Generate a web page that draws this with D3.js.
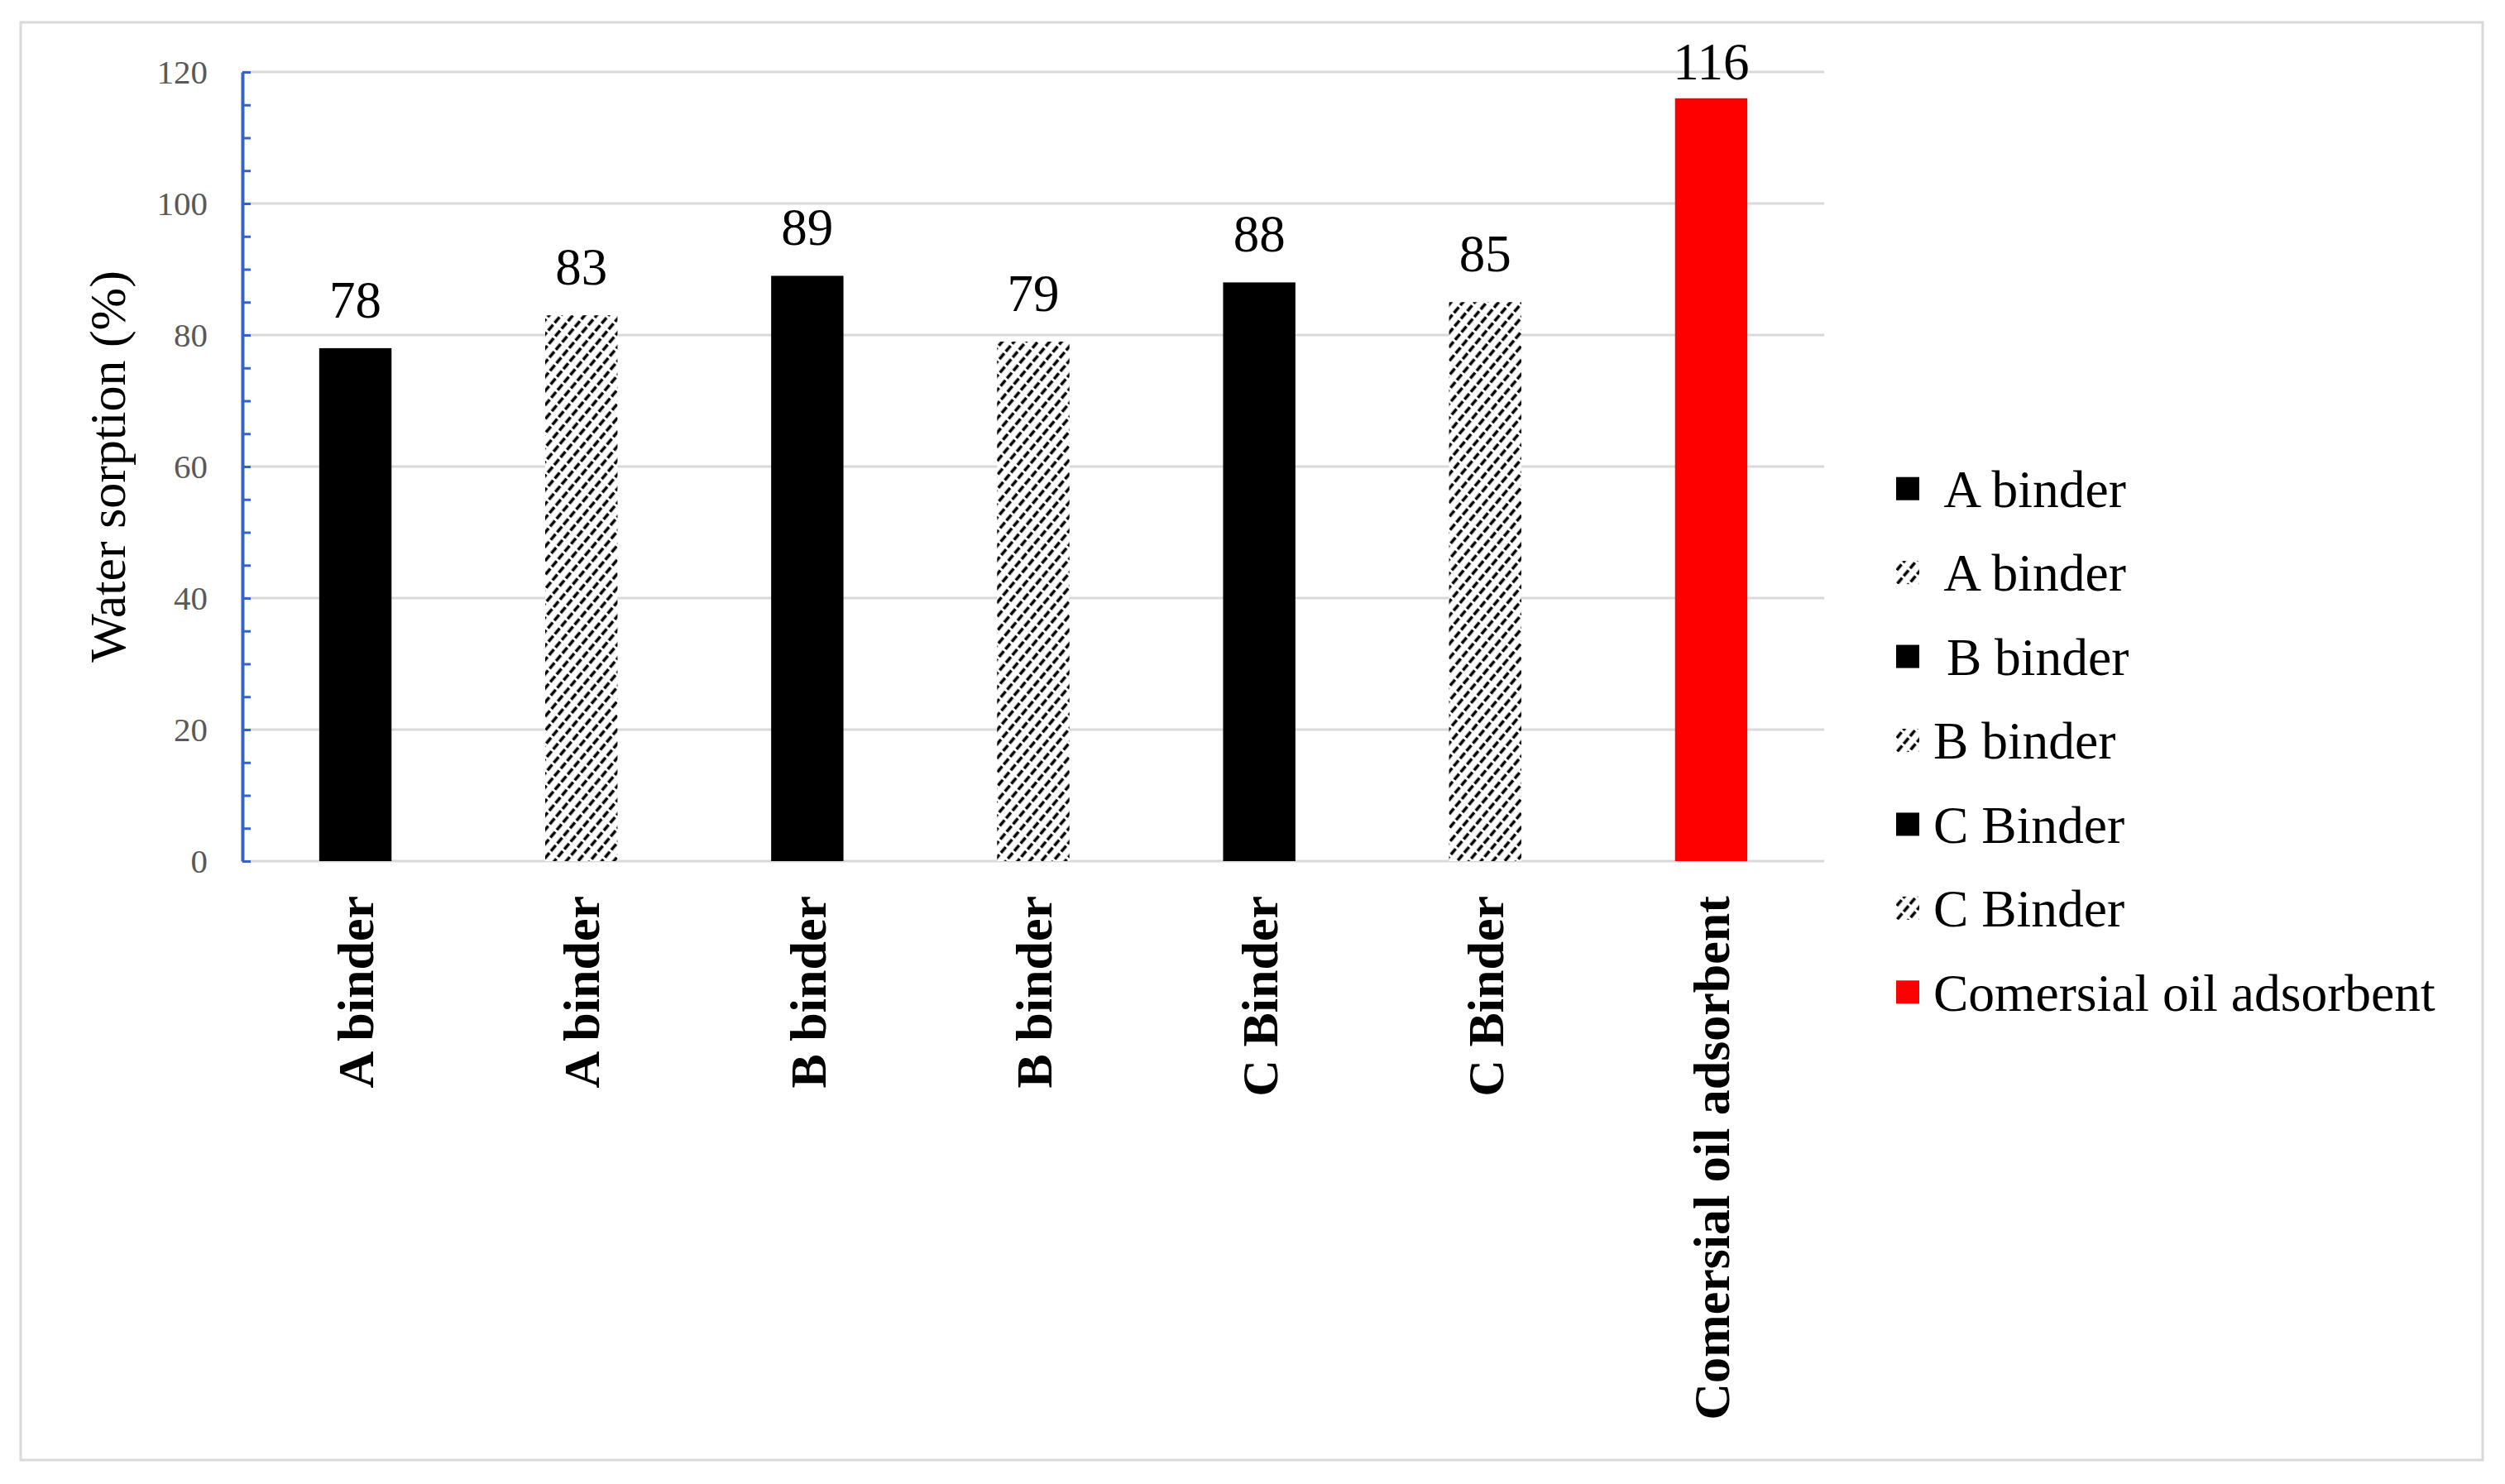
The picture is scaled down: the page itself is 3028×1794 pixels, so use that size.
<!DOCTYPE html>
<html>
<head>
<meta charset="utf-8">
<script src="https://cdn.jsdelivr.net/npm/d3@7"></script>
<style>
  body { margin: 0; background: #fff; }
  svg text { font-family: "Liberation Serif", "DejaVu Serif", serif; }
  .tick-label { fill: #595959; font-size: 41px; }
  .value { fill: #000; font-size: 63px; text-anchor: middle; }
  .xlabel { fill: #000; font-size: 62px; font-weight: bold; text-anchor: end; }
  .legend text { fill: #000; font-size: 63.5px; white-space: pre; }
</style>
</head>
<body>
<div id="chart"></div>
<script>
let canvasWidth = 3028;
let canvasHeight = 1794;

// data
let categories = ["A binder", "A binder", "B binder", "B binder", "C Binder", "C Binder", "Comersial oil adsorbent"];
let values = [78, 83, 89, 79, 88, 85, 116];
let legendLabels = [" A binder", " A binder", " B binder", "B binder", "C Binder", "C Binder", "Comersial oil adsorbent"];
let yTicks = [0, 20, 40, 60, 80, 100, 120];
let yTitle = "Water sorption (%)";

// styling: solid, hatched, red
let fillFor = i => i === 6 ? "#ff0000" : (i % 2 === 0 ? "#000000" : "url(#hatch)");

let serif = "'Liberation Serif', 'DejaVu Serif', serif";

let plotLeft = 293;
let plotRight = 2205;
let plotTop = 87;
let plotBottom = 1041;

let svg = d3.select("#chart")
    .append("svg")
    .attr("width", canvasWidth)
    .attr("height", canvasHeight)
    .attr("font-family", serif);

svg.append("rect")
    .attr("width", canvasWidth)
    .attr("height", canvasHeight)
    .attr("fill", "#fff");

// outer frame
svg.append("rect")
    .attr("x", 25)
    .attr("y", 27)
    .attr("width", 2976)
    .attr("height", 1738)
    .attr("fill", "none")
    .attr("stroke", "#d9d9d9")
    .attr("stroke-width", 3);

// dashed upward diagonal pattern
let defs = svg.append("defs");
let pat = defs.append("pattern")
    .attr("id", "hatch")
    .attr("patternUnits", "userSpaceOnUse")
    .attr("width", 12)
    .attr("height", 11)
    .attr("patternTransform", "rotate(-50)");
pat.append("rect").attr("width", 12).attr("height", 11).attr("fill", "#fff");
pat.append("line")
    .attr("x1", 0).attr("y1", 5.5)
    .attr("x2", 12).attr("y2", 5.5)
    .attr("stroke", "#000")
    .attr("stroke-width", 3.6)
    .attr("stroke-dasharray", "9,3");

let xScale = d3.scaleBand()
    .domain(d3.range(categories.length))
    .range([plotLeft, plotRight])
    .paddingInner(0.68)
    .paddingOuter(0.34);

let yScale = d3.scaleLinear()
    .domain([0, 120])
    .range([plotBottom, plotTop]);

// grid lines
svg.append("g")
    .selectAll("line")
    .data(yTicks)
    .join("line")
    .attr("x1", plotLeft)
    .attr("x2", plotRight)
    .attr("y1", d => yScale(d))
    .attr("y2", d => yScale(d))
    .attr("stroke", "#d9d9d9")
    .attr("stroke-width", 3);

// bars
svg.append("g")
    .selectAll("rect")
    .data(values)
    .join("rect")
    .attr("x", (d, i) => xScale(i))
    .attr("y", d => yScale(d))
    .attr("width", xScale.bandwidth())
    .attr("height", d => plotBottom - yScale(d))
    .attr("fill", (d, i) => fillFor(i));

// value labels, kept inside the plot area
svg.append("g")
    .selectAll("text")
    .data(values)
    .join("text")
    .attr("class", "value")
    .attr("font-family", serif)
    .attr("x", (d, i) => xScale(i) + xScale.bandwidth() / 2)
    .attr("y", d => Math.max(yScale(d) - 37, yScale(120) + 9))
    .text(d => d);

// y axis: blue line with small inner ticks every 5
let yAxis = svg.append("g")
    .attr("transform", "translate(" + plotLeft + ",0)")
    .call(d3.axisRight(yScale)
        .tickValues(d3.range(0, 121, 5))
        .tickSize(10)
        .tickSizeOuter(0)
        .tickFormat(""));
yAxis.select(".domain").attr("stroke", "#3563c9").attr("stroke-width", 4);
yAxis.selectAll(".tick line").attr("stroke", "#3563c9").attr("stroke-width", 3);

// y tick labels
svg.append("g")
    .selectAll("text")
    .data(yTicks)
    .join("text")
    .attr("class", "tick-label")
    .attr("font-family", serif)
    .attr("x", 251)
    .attr("y", d => yScale(d))
    .attr("dy", "0.35em")
    .attr("text-anchor", "end")
    .text(d => d);

// y title
svg.append("text")
    .attr("transform", "translate(129," + ((plotTop + plotBottom) / 2) + ") rotate(-90)")
    .attr("dy", "0.35em")
    .attr("text-anchor", "middle")
    .attr("font-family", serif)
    .attr("font-size", 62)
    .attr("fill", "#000")
    .text(yTitle);

// x labels
svg.append("g")
    .selectAll("text")
    .data(categories)
    .join("text")
    .attr("class", "xlabel")
    .attr("font-family", serif)
    .attr("transform", (d, i) => "translate(" + (xScale(i) + xScale.bandwidth() / 2) + "," + (plotBottom + 42) + ") rotate(-90)")
    .attr("dy", "0.35em")
    .text(d => d);

// legend
let legendScale = d3.scaleBand()
    .domain(d3.range(legendLabels.length))
    .range([540, 1250]);

let legend = svg.append("g").attr("class", "legend");
let rows = legend.selectAll("g")
    .data(legendLabels)
    .join("g")
    .attr("transform", (d, i) => "translate(0," + (legendScale(i) + legendScale.bandwidth() / 2) + ")");

rows.append("rect")
    .attr("x", 2292)
    .attr("y", -14)
    .attr("width", 28)
    .attr("height", 28)
    .attr("fill", (d, i) => fillFor(i));

rows.append("text")
    .attr("x", 2337)
    .attr("dy", "0.35em")
    .attr("font-family", serif)
    .text(d => d);
</script>
</body>
</html>
